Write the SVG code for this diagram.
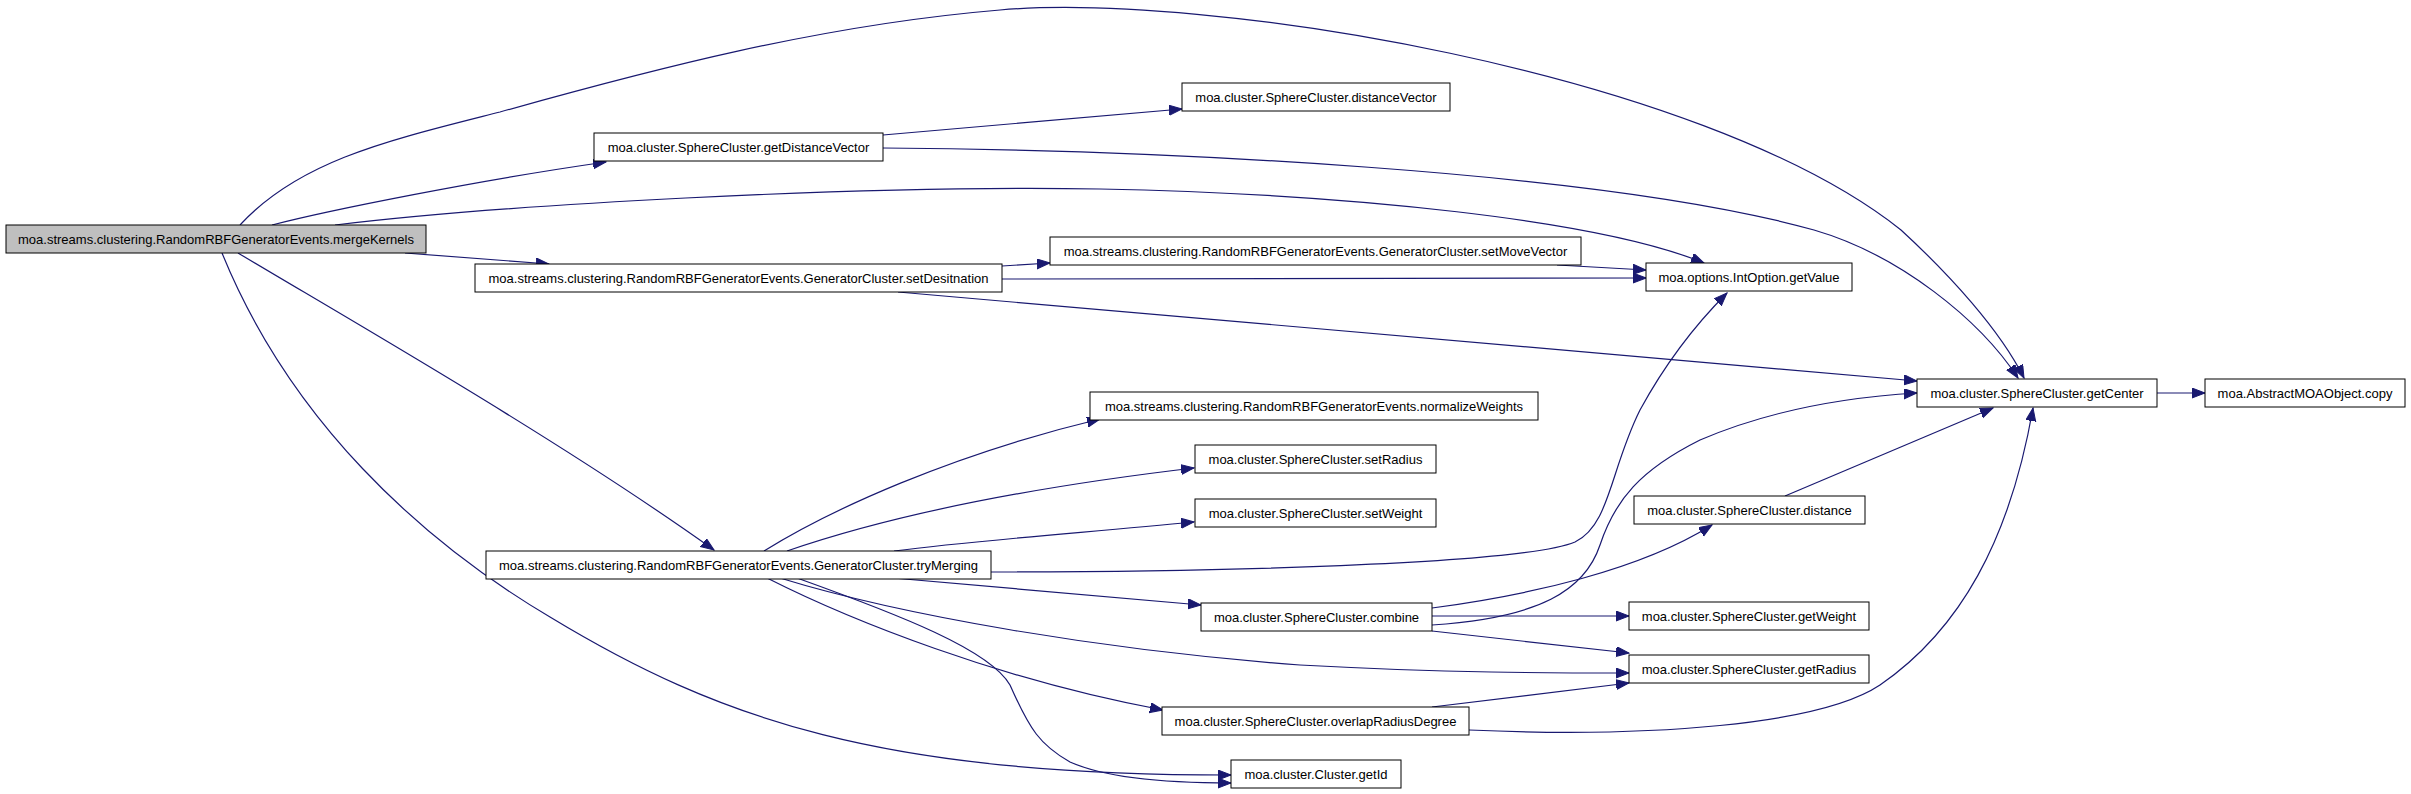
<svg xmlns="http://www.w3.org/2000/svg" width="2411" height="794" viewBox="0 0 2411 794">
<style>
.n rect{fill:#ffffff;stroke:#000000;stroke-width:1}
.n.root rect{fill:#bfbfbf}
.n text{font-family:"Liberation Sans",Arial,sans-serif;font-size:13px;fill:#000000;text-anchor:middle}
.e path{fill:none;stroke:#191970;stroke-width:1.2}
</style>
<defs>
<marker id="arr" markerUnits="userSpaceOnUse" markerWidth="14" markerHeight="11" refX="13" refY="5" orient="auto">
<path d="M0,0 L13,5 L0,10 z" fill="#191970" stroke="#191970" stroke-width="1"/>
</marker>
</defs>
<rect x="0" y="0" width="2411" height="794" fill="#ffffff"/>
<g id="connectors" class="e">
<path marker-end="url(#arr)" d="M240,225 C300,160 390,140 500,112 C650,70 820,25 1000,10 C1200,-8 1700,70 1901,230 C1950,275 2000,330 2024,378"/>
<path marker-end="url(#arr)" d="M272,225 C330,210 480,180 606,162"/>
<path marker-end="url(#arr)" d="M335,225 C500,205 850,185 1100,189 C1350,194 1600,220 1704,263"/>
<path marker-end="url(#arr)" d="M405,253 L549,264"/>
<path marker-end="url(#arr)" d="M238,253 C350,320 560,440 714,550"/>
<path marker-end="url(#arr)" d="M222,253 C290,420 420,540 550,617 C720,720 880,775 1231,775"/>
<path marker-end="url(#arr)" d="M883,135 L1182,109"/>
<path marker-end="url(#arr)" d="M883,148 C1150,150 1600,170 1814,230 C1900,255 1980,320 2018,378"/>
<path marker-end="url(#arr)" d="M1002,266 L1050,263"/>
<path marker-end="url(#arr)" d="M1002,279 L1646,278"/>
<path marker-end="url(#arr)" d="M898,292 L1917,381"/>
<path marker-end="url(#arr)" d="M1557,265 L1646,270"/>
<path marker-end="url(#arr)" d="M2157,393 L2205,393"/>
<path marker-end="url(#arr)" d="M764,551 C830,510 950,455 1100,419"/>
<path marker-end="url(#arr)" d="M787,551 C900,512 1050,485 1194,468"/>
<path marker-end="url(#arr)" d="M894,551 C980,540 1080,533 1194,522"/>
<path marker-end="url(#arr)" d="M991,572 C1200,572 1520,565 1575,542 C1610,525 1610,470 1640,410 C1670,355 1700,320 1727,293"/>
<path marker-end="url(#arr)" d="M893,578 L1201,605"/>
<path marker-end="url(#arr)" d="M780,578 C900,615 1100,650 1300,665 C1450,673 1550,673 1629,673"/>
<path marker-end="url(#arr)" d="M767,578 C850,620 1000,680 1163,710"/>
<path marker-end="url(#arr)" d="M797,578 C900,615 990,650 1010,685 C1030,730 1040,745 1070,762 C1110,780 1180,783 1231,783"/>
<path marker-end="url(#arr)" d="M1785,496 L1993,408"/>
<path marker-end="url(#arr)" d="M1432,608 C1530,595 1640,570 1712,525"/>
<path marker-end="url(#arr)" d="M1432,616 L1629,616"/>
<path marker-end="url(#arr)" d="M1432,631 L1629,653"/>
<path marker-end="url(#arr)" d="M1432,625 C1540,618 1585,590 1600,545 C1615,500 1640,470 1700,440 C1770,410 1850,397 1917,393"/>
<path marker-end="url(#arr)" d="M1432,707 L1629,683"/>
<path marker-end="url(#arr)" d="M1469,730 C1650,738 1820,725 1880,685 C1960,630 2010,540 2033,408"/>
</g>
<g id="mergeKernels" class="n root"><rect x="6" y="225" width="420" height="28"/><text x="216" y="243.5">moa.streams.clustering.RandomRBFGeneratorEvents.mergeKernels</text></g>
<g id="getDistanceVector" class="n"><rect x="594" y="133" width="289" height="28"/><text x="738.5" y="151.5">moa.cluster.SphereCluster.getDistanceVector</text></g>
<g id="setDesitnation" class="n"><rect x="475" y="264" width="527" height="28"/><text x="738.5" y="282.5">moa.streams.clustering.RandomRBFGeneratorEvents.GeneratorCluster.setDesitnation</text></g>
<g id="distanceVector" class="n"><rect x="1182" y="83" width="268" height="28"/><text x="1316" y="101.5">moa.cluster.SphereCluster.distanceVector</text></g>
<g id="setMoveVector" class="n"><rect x="1050" y="237" width="531" height="28"/><text x="1315.5" y="255.5">moa.streams.clustering.RandomRBFGeneratorEvents.GeneratorCluster.setMoveVector</text></g>
<g id="getValue" class="n"><rect x="1646" y="263" width="206" height="28"/><text x="1749" y="281.5">moa.options.IntOption.getValue</text></g>
<g id="getCenter" class="n"><rect x="1917" y="379" width="240" height="28"/><text x="2037" y="397.5">moa.cluster.SphereCluster.getCenter</text></g>
<g id="copy" class="n"><rect x="2205" y="379" width="200" height="28"/><text x="2305" y="397.5">moa.AbstractMOAObject.copy</text></g>
<g id="tryMerging" class="n"><rect x="486" y="551" width="505" height="28"/><text x="738.5" y="569.5">moa.streams.clustering.RandomRBFGeneratorEvents.GeneratorCluster.tryMerging</text></g>
<g id="normalizeWeights" class="n"><rect x="1090" y="392" width="448" height="28"/><text x="1314" y="410.5">moa.streams.clustering.RandomRBFGeneratorEvents.normalizeWeights</text></g>
<g id="setRadius" class="n"><rect x="1195" y="445" width="241" height="28"/><text x="1315.5" y="463.5">moa.cluster.SphereCluster.setRadius</text></g>
<g id="setWeight" class="n"><rect x="1195" y="499" width="241" height="28"/><text x="1315.5" y="517.5">moa.cluster.SphereCluster.setWeight</text></g>
<g id="distance" class="n"><rect x="1634" y="496" width="231" height="28"/><text x="1749.5" y="514.5">moa.cluster.SphereCluster.distance</text></g>
<g id="combine" class="n"><rect x="1201" y="603" width="231" height="28"/><text x="1316.5" y="621.5">moa.cluster.SphereCluster.combine</text></g>
<g id="getWeight" class="n"><rect x="1629" y="602" width="240" height="28"/><text x="1749" y="620.5">moa.cluster.SphereCluster.getWeight</text></g>
<g id="getRadius" class="n"><rect x="1629" y="655" width="240" height="28"/><text x="1749" y="673.5">moa.cluster.SphereCluster.getRadius</text></g>
<g id="overlapRadiusDegree" class="n"><rect x="1162" y="707" width="307" height="28"/><text x="1315.5" y="725.5">moa.cluster.SphereCluster.overlapRadiusDegree</text></g>
<g id="getId" class="n"><rect x="1231" y="760" width="170" height="28"/><text x="1316" y="778.5">moa.cluster.Cluster.getId</text></g>
</svg>
